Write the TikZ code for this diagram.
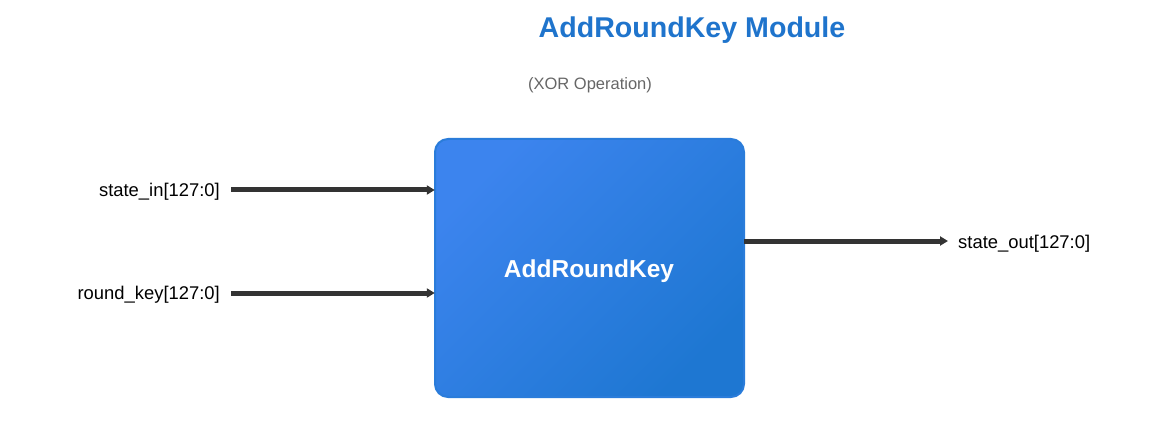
\documentclass[tikz,border=0pt]{standalone}
\usepackage{fontspec}
\setmainfont{Liberation Sans}
\usetikzlibrary{arrows.meta}
\definecolor{titleblue}{HTML}{1F74CC}
\definecolor{boxlight}{HTML}{3C84EE}
\definecolor{boxdark}{HTML}{1E77D2}
\definecolor{boxedge}{HTML}{2A7CDA}
\definecolor{wire}{HTML}{333333}
\definecolor{subgray}{HTML}{666666}
\tikzset{
  wireline/.style={draw=wire, line width=5pt, -{Triangle[length=8pt,width=9pt]}},
  portlabel/.style={font=\fontsize{18.4}{21}\selectfont, text=black, inner sep=0pt},
}
\begin{document}
\begin{tikzpicture}[x=1pt,y=-1pt]
\useasboundingbox (0,0) rectangle (1152,425);
\node[font=\bfseries\fontsize{28.6}{33}\selectfont, text=titleblue] (title) at (692,30) {AddRoundKey Module};
\node[font=\fontsize{16.5}{19}\selectfont, text=subgray] (sub) at (590,85) {(XOR Operation)};
\shade[top color=boxlight, bottom color=boxdark, shading angle=45, rounded corners=13pt]
  (435,139) rectangle (744,397);
\draw[boxedge, line width=2pt, rounded corners=13pt] (435,139) rectangle (744,397);
\node[minimum width=309pt, minimum height=258pt, inner sep=0pt] (box) at (589.5,268) {};
\node[font=\bfseries\fontsize{24.5}{28}\selectfont, text=white] (boxlabel) at (589,271) {AddRoundKey};
\node[portlabel, anchor=east] (sin) at (220,191.5) {state\_in[127:0]};
\node[portlabel, anchor=east] (rk) at (220,294.5) {round\_key[127:0]};
\node[portlabel, anchor=west] (sout) at (958,243.5) {state\_out[127:0]};
\coordinate (sinA) at (231,190);
\coordinate (rkA) at (231,293);
\coordinate (soutA) at (948,241);
\draw[wireline] (sinA) -- (box.west |- sinA);
\draw[wireline] (rkA) -- (box.west |- rkA);
\draw[wireline] (box.east |- soutA) -- (soutA);
\end{tikzpicture}
\end{document}
